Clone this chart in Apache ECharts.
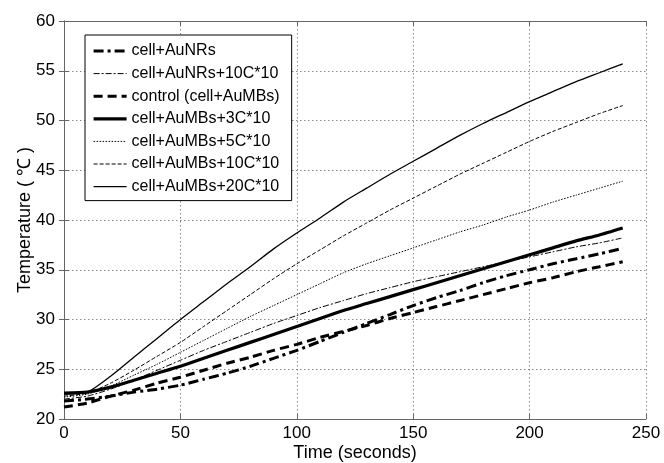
<!DOCTYPE html>
<html>
<head>
<meta charset="utf-8">
<script src="https://cdn.jsdelivr.net/npm/echarts@6/dist/echarts.min.js"></script>
<style>html,body{margin:0;padding:0;background:#fff;}#c{width:664px;height:463px;}</style>
</head>
<body>
<div id="c"></div>
<script>
// time (seconds)
var times = [0,10,20,30,40,50,60,70,80,90,100,110,120,130,140,150,160,170,180,190,200,210,220,230,240];
var seriesNames = ['cell+AuNRs','cell+AuNRs+10C*10','control (cell+AuMBs)','cell+AuMBs+3C*10','cell+AuMBs+5C*10','cell+AuMBs+10C*10','cell+AuMBs+20C*10'];
var cellAuNRs   = [21.8,22.0,22.3,22.7,23.0,23.4,24.0,24.6,25.3,26.1,26.9,27.8,28.7,29.6,30.5,31.4,32.2,32.9,33.7,34.4,35.0,35.6,36.1,36.6,37.15];
var cellAuNRs10 = [22.0,22.3,23.0,23.9,24.9,25.9,26.9,27.8,28.7,29.6,30.4,31.2,31.9,32.6,33.2,33.8,34.3,34.8,35.3,35.8,36.3,36.8,37.3,37.7,38.2];
var control     = [21.2,21.6,22.3,22.9,23.6,24.2,24.9,25.6,26.2,26.9,27.5,28.2,28.8,29.4,30.1,30.7,31.3,31.9,32.5,33.1,33.7,34.2,34.8,35.3,35.8];
var mbs3        = [22.6,22.7,23.2,23.9,24.6,25.3,26.1,26.9,27.7,28.5,29.3,30.1,30.9,31.6,32.3,33.0,33.7,34.4,35.1,35.8,36.5,37.2,37.9,38.5,39.2];
var mbs5        = [22.2,22.5,23.3,24.4,25.5,26.7,27.9,29.1,30.3,31.4,32.5,33.6,34.7,35.6,36.4,37.2,38.0,38.8,39.5,40.3,41.0,41.8,42.5,43.2,43.9];
var mbs10       = [22.3,22.6,23.6,24.9,26.3,27.7,29.3,30.9,32.5,34.1,35.6,37.0,38.4,39.7,41.0,42.2,43.4,44.6,45.7,46.8,47.9,48.9,49.8,50.7,51.5];
var mbs20       = [22.5,22.7,24.3,26.2,28.1,30.0,31.8,33.6,35.3,37.1,38.7,40.2,41.8,43.2,44.6,45.9,47.2,48.5,49.7,50.8,51.9,52.9,53.9,54.8,55.7];

var values = [cellAuNRs, cellAuNRs10, control, mbs3, mbs5, mbs10, mbs20];
var styles = [
  {width:3, type:[10,4,3,4]},
  {width:1, type:[6,2,2,2]},
  {width:3, type:[9,5]},
  {width:3.2, type:'solid'},
  {width:1, type:[1.5,1.5]},
  {width:1, type:[4,2]},
  {width:1.3, type:'solid'}
];

function pairs(v){ return times.map(function(t,i){ return [t, v[i]]; }); }

var FONT = 'Liberation Sans, Arial, sans-serif';
var series = seriesNames.map(function(n,i){
  return {
    name:n, type:'line', data:pairs(values[i]), symbol:'none', showSymbol:false, silent:true,
    smooth:0.2,
    xAxisIndex:0, yAxisIndex:0,
    lineStyle:{color:'#000', width:styles[i].width, type:styles[i].type},
    itemStyle:{color:'#000'}
  };
});
var legendData = seriesNames.map(function(n,i){
  return {name:n, lineStyle:{color:'#000', width:styles[i].width, type:styles[i].type}};
});

var axisCommonX = {min:0, max:250, interval:50};
var axisCommonY = {min:20, max:60, interval:5};
var chart = echarts.init(document.getElementById('c'), null, {renderer:'canvas'});
chart.setOption({
  animation:false,
  backgroundColor:'#fff',
  grid:{left:64, right:18, top:21, bottom:44, containLabel:false, outerBoundsMode:'none'},
  legend:{
    orient:'vertical', left:85, top:35,
    data:legendData,
    backgroundColor:'#fff', borderColor:'#000', borderWidth:1,
    padding:[8,12,6,7], itemGap:6.6, itemWidth:33, itemHeight:14,
    itemStyle:{opacity:0},
    textStyle:{fontFamily:FONT, fontSize:16, color:'#000', padding:[0,0,0,0]},
    selectedMode:false
  },
  xAxis:[
    Object.assign({type:'value', position:'bottom', name:'Time (seconds)', nameLocation:'middle', nameGap:25,
      nameMoveOverlap:false,
      nameTextStyle:{fontFamily:FONT, fontSize:18, color:'#000'},
      axisLine:{show:true, lineStyle:{color:'#666', width:1}},
      axisTick:{show:true, inside:true, length:5, lineStyle:{color:'#666'}},
      axisLabel:{fontFamily:FONT, fontSize:17, color:'#000', margin:6},
      splitLine:{show:true, lineStyle:{color:'#888', type:[1.5,2.5], width:1}}}, axisCommonX),
    Object.assign({type:'value', position:'top',
      axisLine:{show:true, lineStyle:{color:'#666', width:1}},
      axisTick:{show:true, inside:true, length:5, lineStyle:{color:'#666'}},
      axisLabel:{show:false}, splitLine:{show:false}}, axisCommonX)
  ],
  yAxis:[
    Object.assign({type:'value', position:'left', name:'Temperature ( \u2103 )', nameLocation:'middle', nameGap:30,
      nameMoveOverlap:false,
      nameTextStyle:{fontFamily:FONT, fontSize:18, color:'#000'},
      axisLine:{show:true, lineStyle:{color:'#666', width:1}},
      axisTick:{show:true, inside:true, length:5, lineStyle:{color:'#666'}},
      axisLabel:{fontFamily:FONT, fontSize:17, color:'#000', margin:9},
      splitLine:{show:true, lineStyle:{color:'#888', type:[1.5,2.5], width:1}}}, axisCommonY),
    Object.assign({type:'value', position:'right',
      axisLine:{show:true, lineStyle:{color:'#666', width:1}},
      axisTick:{show:true, inside:true, length:5, lineStyle:{color:'#666'}},
      axisLabel:{show:false}, splitLine:{show:false}}, axisCommonY)
  ],
  series:series
});
</script>
</body>
</html>
